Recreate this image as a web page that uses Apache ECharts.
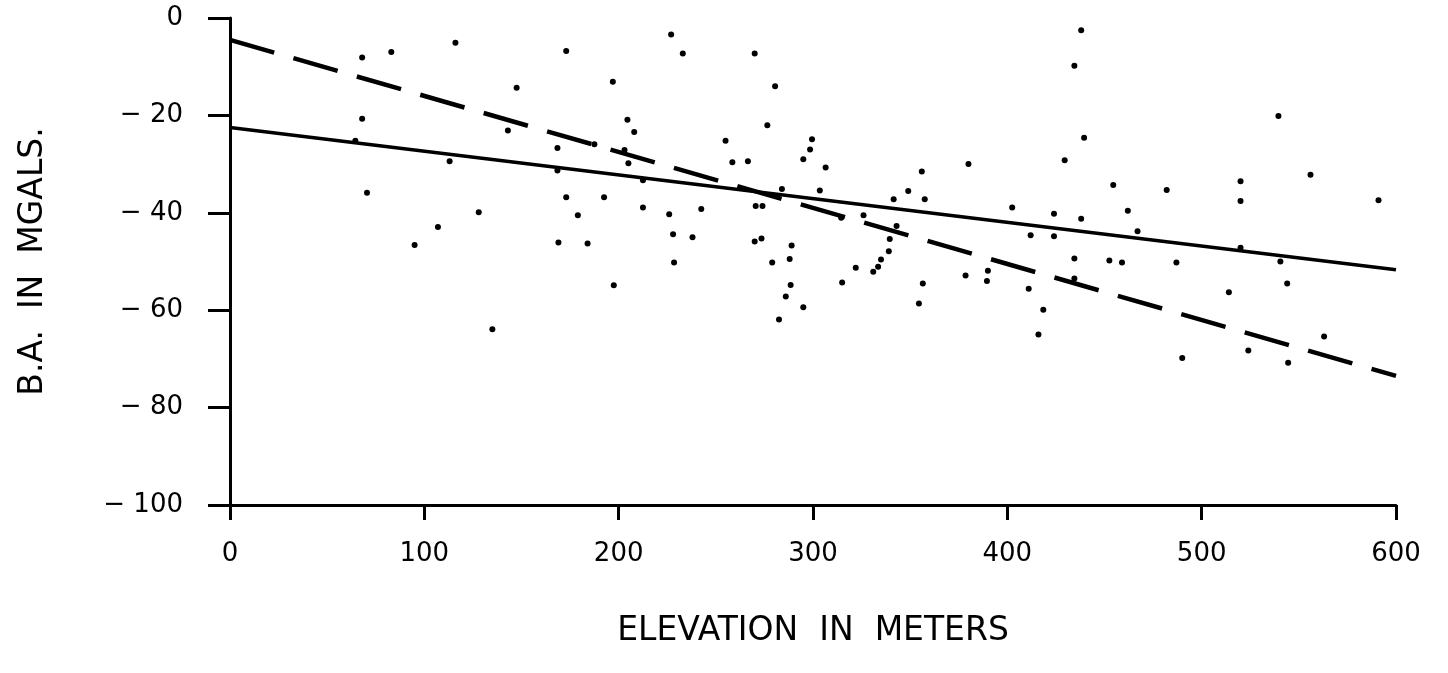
<!DOCTYPE html>
<html>
<head>
    <meta charset="utf-8">
    <title>ECharts</title>
    <script type="text/javascript" src="https://cdn.jsdelivr.net/npm/echarts@6/dist/echarts.min.js"></script>
</head>
<body style="margin:0;background:#fff;">
    <div id="main" style="width: 1448px;height:673px;"></div>
	<script type="text/javascript">
		// elevation (m) of each station
		var elevation = [68, 83, 116, 68, 64.5, 113, 70.5, 128, 107, 95, 135,
			173, 147.5, 197, 227, 143, 168.5, 187.5, 204.5, 208, 203, 205, 168.5, 212.5, 173, 192.5,
			212.5, 226, 179, 169, 184, 197.5,
			233, 270, 280.5, 276.5, 255, 258.5, 266.5, 299.5, 298.5, 295, 306.5, 284, 303.5,
			242.5, 270.5, 274, 228, 238, 270, 273.5, 289, 228.5, 279, 288, 288.5, 286, 295, 282.5, 315,
			380, 356, 349, 341.5, 357.5, 402.5, 314.5, 326, 343, 339.5, 339, 335, 333.5, 331, 322,
			356.5, 354.5, 378.5, 390, 389.5,
			438, 434.5, 439.5, 429.5, 454.5, 482, 424, 438, 462, 467, 412, 424, 434.5, 452.5, 459, 487,
			434.5, 411, 418.5, 416, 490,
			539.5, 556, 520, 591, 520, 520, 540.5, 544, 514, 563, 524, 544.5];
		// Bouguer anomaly (mgals) of each station
		var anomaly = [-8.1, -7.0, -5.1, -20.7, -25.2, -29.4, -35.9, -39.9, -42.9, -46.6, -63.9,
			-6.8, -14.3, -13.1, -3.4, -23.1, -26.7, -25.9, -20.9, -23.4, -27.1, -29.8, -31.3, -33.3, -36.8, -36.8,
			-38.9, -40.3, -40.5, -46.1, -46.3, -54.9,
			-7.3, -7.3, -14.0, -22.0, -25.2, -29.6, -29.4, -24.9, -27.0, -29.0, -30.7, -35.1, -35.4,
			-39.2, -38.6, -38.6, -44.4, -45.0, -45.9, -45.3, -46.7, -50.2, -50.2, -49.5, -54.8, -57.2, -59.4, -61.9, -54.3,
			-30.0, -31.5, -35.5, -37.2, -37.2, -38.9, -41.0, -40.5, -42.7, -45.4, -47.9, -49.6, -51.1, -52.1, -51.3,
			-54.5, -58.6, -52.9, -51.9, -54.0,
			-2.5, -9.8, -24.6, -29.2, -34.3, -35.3, -40.2, -41.2, -39.6, -43.8, -44.6, -44.8, -49.4, -49.8, -50.2, -50.2,
			-53.5, -55.6, -59.9, -65.0, -69.8,
			-20.1, -32.2, -33.5, -37.4, -37.6, -47.2, -50.0, -54.5, -56.3, -65.4, -68.3, -70.8];
		// fitted lines, end points at 0 and 600 m
		var solidFit = [[0, -22.5], [600, -51.7]];
		var dashedFit = [[0, -4.5], [600, -73.5]];

		var xTicks = [0, 100, 200, 300, 400, 500, 600];
		var yTicks = [0, -20, -40, -60, -80, -100];

		var points = elevation.map(function (x, i) { return [x, anomaly[i]]; });
		var font = '"DejaVu Sans", sans-serif';

		var option = {
			animation: false,
			backgroundColor: '#fff',
			grid: { left: 230, right: 52, top: 18, bottom: 168 },
			xAxis: {
				type: 'value',
				min: xTicks[0],
				max: xTicks[xTicks.length - 1],
				interval: 100,
				name: 'ELEVATION  IN  METERS',
				nameLocation: 'middle',
				nameGap: 110,
				nameTextStyle: { color: '#000', fontFamily: font, fontSize: 33 },
				splitLine: { show: false },
				axisLine: { onZero: false, lineStyle: { color: '#000', width: 3 } },
				axisTick: { length: 15, lineStyle: { color: '#000', width: 3 } },
				axisLabel: { margin: 36, color: '#000', fontFamily: font, fontSize: 26 }
			},
			yAxis: {
				type: 'value',
				min: yTicks[yTicks.length - 1],
				max: yTicks[0],
				interval: 20,
				name: 'B.A.  IN  MGALS.',
				nameLocation: 'middle',
				nameRotate: 90,
				nameGap: 180,
				nameTextStyle: { color: '#000', fontFamily: font, fontSize: 33 },
				splitLine: { show: false },
				axisLine: { onZero: false, lineStyle: { color: '#000', width: 3 } },
				axisTick: { length: 22, lineStyle: { color: '#000', width: 3 } },
				axisLabel: {
					margin: 47, color: '#000', fontFamily: font, fontSize: 26,
					formatter: function (v) { return v === 0 ? '0' : '\u2212 ' + Math.abs(v); }
				}
			},
			series: [
				{
					type: 'scatter',
					data: points,
					symbolSize: 6,
					itemStyle: { color: '#000', opacity: 1 },
					z: 3
				},
				{
					type: 'line',
					data: solidFit,
					symbol: 'none',
					lineStyle: { color: '#000', width: 3.5 },
					z: 2
				},
				{
					type: 'line',
					data: dashedFit,
					symbol: 'none',
					lineStyle: { color: '#000', width: 4.5, type: [46, 20] },
					z: 2
				}
			]
		};
		echarts.init(document.getElementById('main')).setOption(option);
    </script>
</body>
</html>
